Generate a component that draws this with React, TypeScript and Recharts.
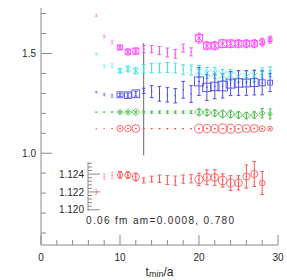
import React from 'react';
import { ComposedChart, Scatter, ErrorBar, XAxis, YAxis, ReferenceLine } from 'recharts';

const W = 287;
const H = 280;
const AXIS = '#8a8a8a';
const INK = '#2a2a2a';
const FONT = '"Liberation Sans", Arial, sans-serif';

/* ---------------------------------------------------------------------------
   Data, one value per t_min/a
   --------------------------------------------------------------------------- */

const tmin = [7, 8, 9, 10, 11, 12, 13, 14, 15, 16, 17, 18, 19, 20, 21, 22, 23, 24, 25, 26, 27, 28, 29];

const magenta    = [1.691, 1.585, 1.557, 1.530, 1.508, 1.512, 1.522, 1.522, 1.515, 1.505, 1.498, 1.527, 1.508, 1.577, 1.539, 1.539, 1.549, 1.549, 1.549, 1.549, 1.549, 1.557, 1.569];
const magentaErr = [0.006, 0.008, 0.010, 0.012, 0.015, 0.015, 0.018, 0.018, 0.020, 0.022, 0.022, 0.020, 0.020, 0.025, 0.020, 0.020, 0.020, 0.020, 0.020, 0.020, 0.020, 0.019, 0.017];

const cyan    = [1.498, 1.435, 1.438, 1.413, 1.423, 1.413, 1.423, 1.427, 1.427, 1.430, 1.427, 1.418, 1.417, 1.410, 1.402, 1.402, 1.392, 1.392, 1.385, 1.385, 1.388, 1.402, 1.408];
const cyanErr = [0.005, 0.008, 0.011, 0.012, 0.015, 0.015, 0.022, 0.024, 0.024, 0.025, 0.025, 0.025, 0.025, 0.030, 0.028, 0.028, 0.028, 0.028, 0.028, 0.028, 0.028, 0.025, 0.025];

const blue    = [1.306, 1.294, 1.288, 1.293, 1.291, 1.298, 1.313, 1.309, 1.298, 1.293, 1.288, 1.318, 1.297, 1.360, 1.330, 1.335, 1.337, 1.349, 1.352, 1.352, 1.354, 1.353, 1.354];
const blueErr = [0.004, 0.006, 0.008, 0.008, 0.010, 0.012, 0.013, 0.030, 0.037, 0.036, 0.036, 0.042, 0.042, 0.070, 0.065, 0.062, 0.060, 0.060, 0.062, 0.062, 0.062, 0.060, 0.045];

const green    = [1.206, 1.206, 1.206, 1.206, 1.206, 1.206, 1.206, 1.206, 1.206, 1.206, 1.206, 1.206, 1.206, 1.206, 1.204, 1.201, 1.197, 1.196, 1.192, 1.189, 1.192, 1.201, 1.197];
const greenErr = [0.002, 0.002, 0.003, 0.004, 0.004, 0.005, 0.005, 0.005, 0.006, 0.006, 0.006, 0.006, 0.007, 0.013, 0.014, 0.015, 0.015, 0.016, 0.016, 0.016, 0.016, 0.023, 0.025];

const red    = [1.1220, 1.12373, 1.12384, 1.12392, 1.12389, 1.12367, 1.12329, 1.12344, 1.12348, 1.12333, 1.12326, 1.12344, 1.12348, 1.12340, 1.12364, 1.12362, 1.12328, 1.12300, 1.12302, 1.12373, 1.12401, 1.12300, 1.12310];
const redErr = [0.00026, 0.0003, 0.00033, 0.00037, 0.00037, 0.00044, 0.00028, 0.00033, 0.00042, 0.0005, 0.00052, 0.00046, 0.00046, 0.0007, 0.00083, 0.00088, 0.00075, 0.00083, 0.0008, 0.0013, 0.0014, 0.0013, 0.0013];

// symbol size (px) and strength per t_min
const symSize  = [1, 1, 1, 5, 5.5, 6.5, 1, 1, 1, 1, 1, 1, 1, 7.5, 7, 7, 8, 7.5, 7, 6.5, 6.5, 5, 4];
const symAlpha = [0.35, 0.45, 0.6, 1, 1, 1, 1, 1, 1, 1, 1, 1, 1, 1, 1, 1, 1, 1, 1, 1, 1, 1, 1];

const xTicks = [0, 2, 4, 6, 8, 10, 12, 14, 16, 18, 20, 22, 24, 26, 28, 30];
const xMajor = [0, 10, 20, 30];
const yTicks = [0.6, 0.7, 0.8, 0.9, 1.0, 1.1, 1.2, 1.3, 1.4, 1.5, 1.6, 1.7];
const yMajor = [1.0, 1.5];
const insetTicks = [1.1200, 1.1204, 1.1208, 1.1212, 1.1216, 1.1220, 1.1224, 1.1228, 1.1232, 1.1236, 1.1240, 1.1244, 1.1248, 1.1252];
const insetMajor = [1.120, 1.122, 1.124];

/* ---------------------------------------------------------------------------
   Helpers
   --------------------------------------------------------------------------- */

type Mark = 'boxx' | 'cross' | 'square' | 'diamond' | 'circle';
type Row = { t: number; y: number; e: number; s: number; o: number };

function buildRows(vals: number[], errs: number[]): Row[] {
  return tmin.map((t, i) => ({ t, y: vals[i], e: errs[i], s: symSize[i], o: symAlpha[i] }));
}

const series: { name: string; color: string; mark: Mark; scale: number; cap: number; rows: Row[] }[] = [
  { name: 'magenta', color: '#ff4dff', mark: 'boxx',    scale: 0.95, cap: 1.8, rows: buildRows(magenta, magentaErr) },
  { name: 'cyan',    color: '#33e6e6', mark: 'cross',   scale: 0.95, cap: 1.8, rows: buildRows(cyan, cyanErr) },
  { name: 'blue',    color: '#4d4df0', mark: 'square',  scale: 1.2,  cap: 1.8, rows: buildRows(blue, blueErr) },
  { name: 'green',   color: '#44c044', mark: 'diamond', scale: 1.0,  cap: 1.5, rows: buildRows(green, greenErr) },
  { name: 'red',     color: '#ff5555', mark: 'circle',  scale: 1.2,  cap: 0.8, rows: buildRows(red, redErr) },
];

const isMajor = (majors: number[], v: number) => majors.some(m => Math.abs(m - v) < 1e-9);

function makeShape(color: string, mark: Mark, scale: number) {
  return (p: any) => {
    const { cx, cy, payload } = p;
    if (cx == null || cy == null) return <g />;
    const s = payload.s * scale;
    const h = s / 2;
    const st = { stroke: color, strokeWidth: 0.9, fill: 'none' };
    let sym: React.ReactNode = null;
    if (s > 2) {
      if (mark === 'boxx') {
        sym = (
          <g {...st}>
            <rect x={cx - h} y={cy - h} width={s} height={s} />
            <line x1={cx - h} y1={cy - h} x2={cx + h} y2={cy + h} />
            <line x1={cx - h} y1={cy + h} x2={cx + h} y2={cy - h} />
          </g>
        );
      } else if (mark === 'cross') {
        sym = (
          <g {...st}>
            <line x1={cx - h} y1={cy - h} x2={cx + h} y2={cy + h} />
            <line x1={cx - h} y1={cy + h} x2={cx + h} y2={cy - h} />
          </g>
        );
      } else if (mark === 'square') {
        sym = <rect x={cx - h} y={cy - h} width={s} height={s} {...st} />;
      } else if (mark === 'diamond') {
        const d = h * 1.15;
        sym = <polygon points={`${cx},${cy - d} ${cx + d},${cy} ${cx},${cy + d} ${cx - d},${cy}`} {...st} />;
      } else {
        sym = <circle cx={cx} cy={cy} r={h} {...st} />;
      }
    }
    return (
      <g opacity={payload.o}>
        {sym}
        <circle cx={cx} cy={cy} r={0.8} fill={color} />
      </g>
    );
  };
}

function AxisTick(props: any) {
  const { x, y, payload, side, majors, fmt, big = 11, small = 5, off = 5 } = props;
  const v = payload.value as number;
  const major = isMajor(majors, v);
  const len = major ? big : small;
  const txt = { fontSize: 10, fill: INK, fontFamily: FONT } as const;
  let line: React.ReactNode = null;
  let label: React.ReactNode = null;
  if (side === 'left') {
    line = <line x1={x} y1={y} x2={x + len} y2={y} stroke={AXIS} />;
    if (major && fmt) label = <text x={x - off} y={y + 3.6} textAnchor="end" {...txt}>{fmt(v)}</text>;
  } else if (side === 'right') {
    line = <line x1={x} y1={y} x2={x - len} y2={y} stroke={AXIS} />;
  } else if (side === 'bottom') {
    line = <line x1={x} y1={y} x2={x} y2={y - len} stroke={AXIS} />;
    if (major && fmt) label = <text x={x} y={y + 16} textAnchor="middle" {...txt}>{fmt(v)}</text>;
  } else {
    line = <line x1={x} y1={y} x2={x} y2={y + len} stroke={AXIS} />;
  }
  return <g>{line}{label}</g>;
}

function XLabel(props: any) {
  const vb = props.viewBox || { x: 41, y: 245, width: 237 };
  const cx = vb.x + vb.width / 2;
  return (
    <text x={cx} y={vb.y + 30.5} textAnchor="middle" fontSize={12} fill={INK} fontFamily={FONT}>
      t<tspan fontSize={9} dy={1}>min</tspan><tspan dy={-1}>/a</tspan>
    </text>
  );
}

function seriesLayers(s: (typeof series)[number], rows: Row[], scale: number, cap: number) {
  const shape = makeShape(s.color, s.mark, scale);
  const faint = rows.filter(r => r.o < 1);
  const full = rows.filter(r => r.o >= 1);
  return [
    <Scatter key={`${s.name}-f`} data={faint} fill={s.color} shape={shape} isAnimationActive={false}>
      <ErrorBar dataKey="e" direction="y" width={Math.min(cap, 1.5)} stroke={s.color} strokeWidth={1} strokeOpacity={0.45} isAnimationActive={false} />
    </Scatter>,
    <Scatter key={`${s.name}-n`} data={full} fill={s.color} shape={shape} isAnimationActive={false}>
      <ErrorBar dataKey="e" direction="y" width={cap} stroke={s.color} strokeWidth={1} isAnimationActive={false} />
    </Scatter>,
  ];
}

/* ---------------------------------------------------------------------------
   App
   --------------------------------------------------------------------------- */

export default function App() {
  const redSeries = series[4];
  const insetRows = redSeries.rows.filter(r => r.t <= 28);
  const fmtMain = (v: number) => v.toFixed(1);
  const fmtInset = (v: number) => v.toFixed(3);
  const fmtX = (v: number) => String(v);

  return (
    <div style={{ position: 'absolute', left: 0, top: 0, width: W, height: H, background: '#fff' }}>
      <div style={{ position: 'absolute', left: 0, top: 0 }}>
        <ComposedChart width={W} height={H} margin={{ top: 8, right: 9, bottom: 0, left: 0 }}>
          <XAxis
            dataKey="t" type="number" domain={[0, 30]} ticks={xTicks} interval={0} allowDataOverflow
            tickSize={0} tickMargin={0} tickLine={false} axisLine={{ stroke: AXIS }} height={35}
            tick={<AxisTick side="bottom" majors={xMajor} fmt={fmtX} big={10} small={5} />}
            label={<XLabel />}
          />
          <XAxis
            xAxisId="top" orientation="top" dataKey="t" type="number" domain={[0, 30]} ticks={xTicks} interval={0}
            allowDataOverflow tickSize={0} tickMargin={0} tickLine={false} axisLine={{ stroke: AXIS }} height={0}
            tick={<AxisTick side="top" majors={xMajor} big={10} small={5} />}
          />
          <YAxis
            dataKey="y" type="number" domain={[0.54, 1.728]} ticks={yTicks} interval={0} allowDataOverflow
            tickSize={0} tickMargin={0} tickLine={false} axisLine={{ stroke: AXIS }} width={41}
            tick={<AxisTick side="left" majors={yMajor} fmt={fmtMain} />}
          />
          <YAxis
            yAxisId="right" orientation="right" dataKey="y" type="number" domain={[0.54, 1.728]} ticks={yTicks}
            interval={0} allowDataOverflow tickSize={0} tickMargin={0} tickLine={false} axisLine={{ stroke: AXIS }}
            width={0} tick={<AxisTick side="right" majors={yMajor} />}
          />
          <ReferenceLine segment={[{ x: 13, y: 0.99 }, { x: 13, y: 1.552 }]} stroke="#666" strokeWidth={1} />
          {series.flatMap(s => seriesLayers(s, s.rows, s.scale, s.cap))}
        </ComposedChart>
      </div>

      {/* inset: red series, magnified */}
      <div style={{ position: 'absolute', left: 0, top: 0 }}>
        <ComposedChart width={W} height={H} margin={{ top: 162, right: 21, bottom: 69, left: 0 }}>
          <XAxis
            dataKey="t" type="number" domain={[5.95, 28.48]} allowDataOverflow tick={false} tickLine={false}
            axisLine={{ stroke: AXIS }} height={0}
          />
          <XAxis
            xAxisId="top" orientation="top" dataKey="t" type="number" domain={[5.95, 28.48]} allowDataOverflow
            tick={false} tickLine={false} axisLine={{ stroke: AXIS }} height={0}
          />
          <YAxis
            dataKey="y" type="number" domain={[1.11986, 1.12536]} ticks={insetTicks} interval={0} allowDataOverflow
            tickSize={0} tickMargin={0} tickLine={false} axisLine={{ stroke: AXIS }} width={88}
            tick={<AxisTick side="left" majors={insetMajor} fmt={fmtInset} big={12} small={4} off={4} />}
          />
          <YAxis
            yAxisId="right" orientation="right" dataKey="y" type="number" domain={[1.11986, 1.12536]}
            ticks={insetTicks} interval={0} allowDataOverflow tickSize={0} tickMargin={0} tickLine={false}
            axisLine={{ stroke: AXIS }} width={0}
            tick={<AxisTick side="right" majors={insetMajor} big={12} small={4} />}
          />
          {seriesLayers(redSeries, insetRows, 1.1, 1.8)}
        </ComposedChart>
      </div>

      <svg width={W} height={H} style={{ position: 'absolute', left: 0, top: 0, pointerEvents: 'none' }}>
        <text x={86} y={224.3} fontSize={10} fill={INK} fontFamily={FONT} textLength={148} lengthAdjust="spacing">
          0.06 fm am=0.0008, 0.780
        </text>
      </svg>
    </div>
  );
}
